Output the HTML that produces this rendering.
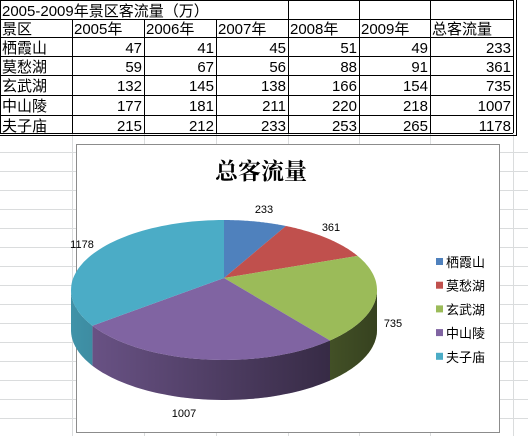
<!DOCTYPE html>
<html><head><meta charset="utf-8"><style>
body{margin:0;width:528px;height:436px;overflow:hidden;background:#fff;font-family:"Liberation Sans","Noto Sans CJK SC",sans-serif;}
svg{position:absolute;left:0;top:0}
</style></head><body>
<svg id="s" width="528" height="436" xmlns="http://www.w3.org/2000/svg"></svg>
<script>
const NS="http://www.w3.org/2000/svg";
const headers=["景区","2005年","2006年","2007年","2008年","2009年","总客流量"];
const names=["栖霞山","莫愁湖","玄武湖","中山陵","夫子庙"];
const y2005=[47,59,132,177,215];
const y2006=[41,67,145,181,212];
const y2007=[45,56,138,211,233];
const y2008=[51,88,166,220,253];
const y2009=[49,91,154,218,265];
const totals=[233,361,735,1007,1178];
const colors=["#4f81bd","#c0504d","#9bbb59","#8064a2","#4bacc6"];
const s=document.getElementById('s');
function el(t,a,p){const e=document.createElementNS(NS,t);for(const k in a)e.setAttribute(k,a[k]);(p||s).appendChild(e);return e;}
const colX=[0,72,144,216,288,359,430,513];
const rowY=[0,19,37,56,75,95,115,133];
for(let x of [72,144,216,288,359,430,513]){const l=el('line',{x1:x+.5,y1:133,x2:x+.5,y2:436,stroke:'#dadcdd'});}
for(let y=152;y<436;y+=19){const l=el('line',{x1:0,y1:y+.5,x2:528,y2:y+.5,stroke:'#dadcdd'});}
const tb=el('g',{});
for(let i=0;i<rowY.length;i++){el('line',{x1:0,y1:rowY[i]+.5,x2:513,y2:rowY[i]+.5,stroke:'#000'},tb);}
el('line',{x1:0,y1:135.5,x2:516,y2:135.5,stroke:'#000'},tb);
el('line',{x1:516.5,y1:0,x2:516.5,y2:136,stroke:'#000'},tb);
for(let j=0;j<colX.length;j++){el('line',{x1:colX[j]+.5,y1:(j>0&&j<6)?19:0,x2:colX[j]+.5,y2:133,stroke:'#000'},tb);}
for(let j of [288,359,430]) el('line',{x1:j+.5,y1:0,x2:j+.5,y2:19,stroke:'#000'},tb);
function txt(x,y,t,anchor,size){const e=el('text',{x:x,y:y,'font-size':size||15,'text-anchor':anchor||'start',fill:'#000'},tb);e.textContent=t;return e;}
let t=txt(2,16,"2005-2009年景区客流量（万）");
headers.forEach((h,j)=>{const e=txt(colX[j]+2,34,h);});
const cols=[y2005,y2006,y2007,y2008,y2009,totals];
names.forEach((n,i)=>{const y=rowY[i+2]+16;const e=txt(2,y,n);
 cols.forEach((c,j)=>{const v=txt(colX[j+2]-2,y,String(c[i]),'end');});});
const fr=el('rect',{x:76.5,y:144.5,width:423,height:288,fill:'#fff',stroke:'#8c8c8c'});
const ti=el('text',{x:261,y:179,'font-size':23,'font-weight':'bold','text-anchor':'middle','font-family':'"Liberation Serif","Noto Serif CJK SC",serif'});ti.textContent="总客流量";
const cx=224,cy=290,rx=153,ry=70,dep=40,apx=224,apy=278;
const defs=el('defs',{});
const g=el('linearGradient',{id:'sh',x1:cx-rx,y1:0,x2:cx+rx,y2:0,gradientUnits:'userSpaceOnUse'},defs);
el('stop',{offset:0,'stop-color':'#000','stop-opacity':0.15},g);el('stop',{offset:1,'stop-color':'#000','stop-opacity':0.65},g);
const sum=totals.reduce((a,b)=>a+b,0);
function P(t,dy){return [cx+rx*Math.sin(t),cy-ry*Math.cos(t)+(dy||0)];}
let a=0;const ang=[];
totals.forEach(v=>{const b=a+v/sum*2*Math.PI;ang.push([a,b]);a=b;});
function arcPts(a0,a1,dy){const pts=[];const n=60;for(let k=0;k<=n;k++){pts.push(P(a0+(a1-a0)*k/n,dy));}return pts;}
ang.forEach(([a0,a1],i)=>{const s0=Math.max(a0,Math.PI/2),s1=Math.min(a1,3*Math.PI/2);if(s1<=s0)return;
 const top=arcPts(s0,s1,0),bot=arcPts(s1,s0,dep);const d='M'+top.concat(bot).map(p=>p[0].toFixed(1)+','+p[1].toFixed(1)).join('L')+'Z';
 const e=el('path',{d:d,fill:colors[i]});
 el('path',{d:d,fill:'url(#sh)'});});
ang.forEach(([a0,a1],i)=>{const d='M'+apx+','+apy+'L'+arcPts(a0,a1,0).map(p=>p[0].toFixed(1)+','+p[1].toFixed(1)).join('L')+'Z';
 const e=el('path',{d:d,fill:colors[i]});});
const lblPos=[[264,213],[331,231],[393,327],[184,417],[82,248]];
totals.forEach((v,i)=>{const e=el('text',{x:lblPos[i][0],y:lblPos[i][1],'font-size':11,'text-anchor':'middle'});e.textContent=v;});
names.forEach((n,i)=>{const y=261+i*23.7;const r=el('rect',{x:436,y:y-3,width:7,height:7,fill:colors[i]});
 const e=el('text',{x:446,y:y+6,'font-size':13});e.textContent=n;});
</script>
</body></html>
